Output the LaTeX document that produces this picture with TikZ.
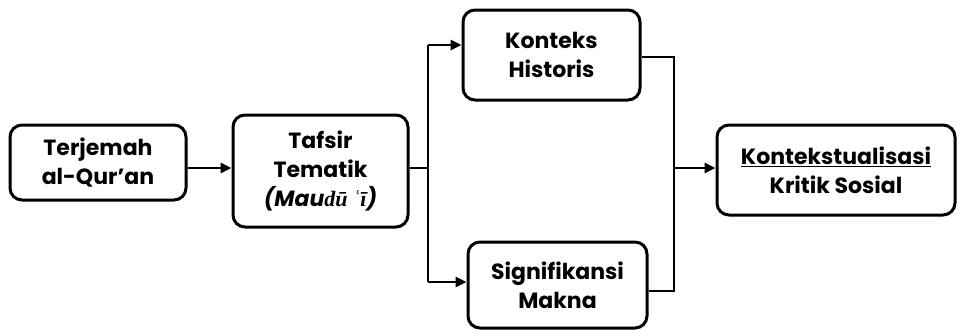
\documentclass[tikz,border=0pt]{standalone}
\usepackage{fontspec}
\setmainfont{Poppins}[BoldFont={* Bold},BoldItalicFont={* Bold Italic}]
\newfontfamily\serifit{Liberation Serif}
\usetikzlibrary{arrows.meta}
\tikzset{
  box/.style={draw, line width=3pt, rounded corners=12pt, align=center,
    font=\fontsize{22}{29}\selectfont\bfseries, inner sep=2pt},
  conn/.style={line width=2.8pt},
  arr/.style={conn, -{Triangle[length=11pt,width=10pt]}}
}
\begin{document}
\begin{tikzpicture}[x=1pt,y=-1pt]
\useasboundingbox (0,0) rectangle (957,330);
\node[box, minimum width=176pt, minimum height=75pt] (b1) at (98,162.5) {Terjemah\\al-Qur’an};
\node[box, minimum width=175pt, minimum height=112pt] (b2) at (320.5,171) {Tafsir\\Tematik\\\textit{(Mau}{\serifit\itshape dū ʿī}\textit{)}};
\node[box, minimum width=177pt, minimum height=90pt] (b3) at (551.5,55) {Konteks\\Historis};
\node[box, minimum width=179pt, minimum height=86pt] (b4) at (557.5,285) {Signifikansi\\Makna};
\node[box, minimum width=238pt, minimum height=90pt] (b5) at (836,170) {\underline{Kontekstualisasi}\\Kritik Sosial};
\coordinate (s1) at (428,168);
\coordinate (s1t) at (428,45);
\coordinate (s1b) at (428,282);
\coordinate (m1t) at (674,57);
\coordinate (m1b) at (674,291);
\coordinate (m1) at (674,168);
\draw[arr] (b1.east |- 0,168) -- (b2.west |- 0,168);
\draw[conn] (b2.east |- s1) -- (s1);
\draw[conn] (s1t) -- (s1b);
\draw[arr] (s1t) -- (b3.west |- s1t);
\draw[arr] (s1b) -- (b4.west |- s1b);
\draw[conn] (b3.east |- m1t) -- (m1t) -- (m1b) -- (b4.east |- m1b);
\draw[arr] (m1) -- (b5.west |- m1);
\end{tikzpicture}
\end{document}
